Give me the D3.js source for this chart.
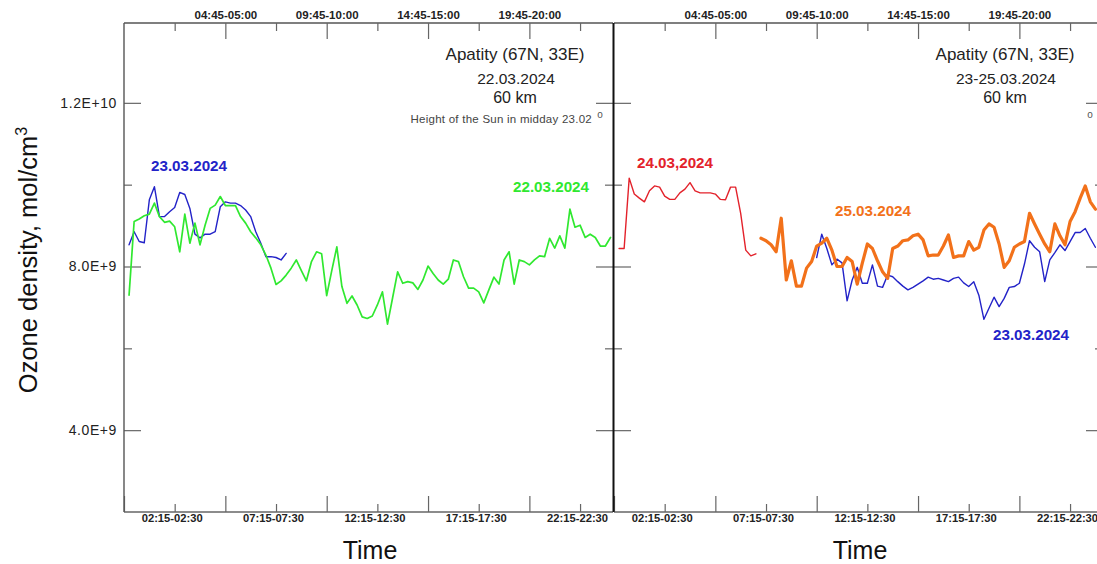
<!DOCTYPE html>
<html><head><meta charset="utf-8">
<script src="https://cdn.jsdelivr.net/npm/d3@7"></script>
<style>
body{margin:0;background:#fff;overflow:hidden}
svg{display:block;font-family:"Liberation Sans",Arial,sans-serif}
</style>
</head><body>
<svg id="chart" width="1097" height="564"></svg>
<script>
// ---- tick data (15-minute slot index: slot i starts at i*15 min) ----
const bottomTickSlots = [9, 29, 49, 69, 89];
const bottomTickLabels = ["02:15-02:30", "07:15-07:30", "12:15-12:30", "17:15-17:30", "22:15-22:30"];
const bottomMajorSlots = [-1, 19, 39, 59, 79];
const topTickSlots = [19, 39, 59, 79];
const topTickLabels = ["04:45-05:00", "09:45-10:00", "14:45-15:00", "19:45-20:00"];
const topMinorSlots = [9, 29, 49, 69, 89];
const yLabelValues = [4e9, 8e9, 1.2e10];
const yLabelTexts = ["4.0E+9", "8.0E+9", "1.2E+10"];
const yMinorValues = [6e9, 1e10];

// ---- series (values in units of 1e9 mol/cm3) ----
const green22Start = 0;
const green22 = [7.30, 9.10, 9.16, 9.24, 9.28, 9.55, 9.22, 9.08, 9.11, 8.97, 8.36, 9.28, 8.57, 9.06, 8.53, 9.01,
  9.42, 9.50, 9.71, 9.49, 9.49, 9.49, 9.22, 9.06, 8.85, 8.70, 8.53, 8.28, 7.96, 7.56, 7.65, 7.79, 7.96, 8.16,
  7.90, 7.65, 8.12, 8.36, 8.31, 7.29, 7.90, 8.48, 7.51, 7.10, 7.28, 7.06, 6.77, 6.73, 6.79, 7.06, 7.38, 6.59,
  7.23, 7.87, 7.59, 7.63, 7.60, 7.44, 7.67, 8.01, 7.83, 7.67, 7.57, 7.69, 8.16, 8.12, 7.75, 7.47, 7.47, 7.38,
  7.11, 7.43, 7.74, 7.57, 8.16, 8.36, 7.57, 8.16, 8.12, 8.04, 8.16, 8.26, 8.24, 8.69, 8.45, 8.75, 8.45, 9.40,
  8.96, 9.01, 8.71, 8.79, 8.71, 8.50, 8.50, 8.71];
const blue23LeftStart = 0;
const blue23Left = [8.53, 8.85, 8.61, 8.58, 9.63, 9.95, 9.22, 9.22, 9.34, 9.44, 9.81, 9.76, 9.42, 8.79, 8.70, 8.79,
  8.79, 8.85, 9.46, 9.58, 9.55, 9.55, 9.49, 9.38, 9.22, 8.85, 8.57, 8.24, 8.24, 8.22, 8.16, 8.32];
const red24Start = 0;
const red24 = [8.44, 8.44, 10.16, 9.77, 9.67, 9.58, 9.85, 9.97, 9.94, 9.72, 9.64, 9.64, 9.80, 9.89, 10.05, 9.85,
  9.80, 9.80, 9.80, 9.77, 9.64, 9.63, 9.94, 9.94, 9.30, 8.40, 8.26, 8.31];
const orange25Start = 28;
const orange25 = [8.69, 8.63, 8.53, 8.36, 9.18, 7.67, 8.14, 7.52, 7.52, 7.96, 8.12, 8.50, 8.57, 8.69, 8.40, 8.00,
  8.00, 8.22, 8.12, 7.57, 8.08, 8.55, 8.44, 8.14, 7.87, 7.71, 8.44, 8.50, 8.63, 8.65, 8.75, 8.79, 8.65, 8.26,
  8.28, 8.28, 8.50, 8.77, 8.22, 8.26, 8.26, 8.61, 8.40, 8.47, 8.89, 9.04, 8.96, 8.55, 7.98, 8.14, 8.47, 8.55,
  8.61, 9.30, 9.04, 8.79, 8.55, 8.36, 9.04, 8.75, 8.53, 9.10, 9.34, 9.67, 9.97, 9.58, 9.40];
const blue23RightStart = 39;
const blue23Right = [8.22, 8.79, 8.44, 8.04, 8.18, 8.09, 7.16, 7.67, 7.98, 7.59, 7.59, 8.04, 7.52, 7.49, 7.79, 7.75,
  7.63, 7.52, 7.43, 7.49, 7.57, 7.65, 7.74, 7.69, 7.71, 7.67, 7.63, 7.71, 7.74, 7.60, 7.51, 7.63, 7.30, 6.71,
  6.98, 7.25, 7.02, 7.22, 7.49, 7.51, 7.59, 8.06, 8.63, 8.47, 8.36, 7.63, 8.16, 8.34, 8.53, 8.39, 8.61, 8.83,
  8.83, 8.93, 8.69, 8.47];

// ---- layout ----
const svg = d3.select("#chart");
const W = 489, TOP = 23, BOT = 512;
const panels = [
  {x0: 124, date: "22.03.2024", sun: true},
  {x0: 614, date: "23-25.03.2024", sun: false}
];
const x = d3.scaleLinear().domain([-1, 95.5]).range([0, W]);
const y = d3.scaleLinear().domain([2e9, 1.4e10]).range([BOT, 21]);
const toPts = (start, arr) => arr.map((v, k) => ({slot: start + k, v: v * 1e9}));
const line = d3.line().x(d => x(d.slot)).y(d => y(d.v));

const COL = {green: "#30e830", blue: "#2323c8", red: "#e3222b", orange: "#f2711a"};
const TICK = "#666";

function styleAxis(g, keepText) {
  g.select(".domain").remove();
  g.selectAll(".tick line").attr("stroke", TICK).attr("stroke-width", 1.2);
  if (!keepText) g.selectAll("text").remove();
}

panels.forEach((p, pi) => {
  const g = svg.append("g").attr("transform", `translate(${p.x0},0)`);

  // frame
  g.append("line").attr("x1", 0).attr("x2", W).attr("y1", TOP).attr("y2", TOP).attr("stroke", "#555").attr("stroke-width", 1.3);
  g.append("line").attr("x1", 0).attr("x2", W).attr("y1", BOT).attr("y2", BOT).attr("stroke", "#666").attr("stroke-width", 1.3);

  // left axis ticks (inward)
  const yl = g.append("g").call(d3.axisRight(y).tickValues(yLabelValues).tickSize(17)); styleAxis(yl);
  const ylm = g.append("g").call(d3.axisRight(y).tickValues(yMinorValues).tickSize(8)); styleAxis(ylm);
  // right axis ticks (inward)
  const yr = g.append("g").attr("transform", `translate(${W},0)`).call(d3.axisLeft(y).tickValues(yLabelValues).tickSize(17)); styleAxis(yr);
  const yrm = g.append("g").attr("transform", `translate(${W},0)`).call(d3.axisLeft(y).tickValues(yMinorValues).tickSize(8)); styleAxis(yrm);

  // top axis
  const ta = g.append("g").attr("transform", `translate(0,${TOP})`)
    .call(d3.axisTop(x).tickValues(topTickSlots).tickSizeInner(-16).tickSizeOuter(0).tickPadding(4)
      .tickFormat((d, i) => topTickLabels[i]));
  styleAxis(ta, true);
  ta.selectAll("text").attr("font-size", 11.5).attr("font-weight", "bold").attr("fill", "#222").attr("font-family", "Liberation Sans, Arial, sans-serif");
  const tam = g.append("g").attr("transform", `translate(0,${TOP})`).call(d3.axisTop(x).tickValues(topMinorSlots).tickSizeInner(-8).tickSizeOuter(0)); styleAxis(tam);

  // bottom axis
  const ba = g.append("g").attr("transform", `translate(0,${BOT})`)
    .call(d3.axisBottom(x).tickValues(bottomTickSlots).tickSizeInner(-8).tickSizeOuter(0).tickPadding(2)
      .tickFormat((d, i) => bottomTickLabels[i]));
  styleAxis(ba, true);
  ba.selectAll("text").attr("font-size", 11.2).attr("font-weight", "bold").attr("fill", "#222").attr("dx", -3)
    .attr("font-family", "Liberation Sans, Arial, sans-serif");
  const bam = g.append("g").attr("transform", `translate(0,${BOT})`).call(d3.axisBottom(x).tickValues(bottomMajorSlots).tickSizeInner(-16).tickSizeOuter(0)); styleAxis(bam);

  // headings
  const hx = 391;
  g.append("text").attr("x", hx).attr("y", 60).attr("text-anchor", "middle").attr("font-size", 17).attr("fill", "#222").text("Apatity (67N, 33E)");
  g.append("text").attr("x", hx + 1).attr("y", 84).attr("text-anchor", "middle").attr("font-size", 15.5).attr("fill", "#222").text(p.date);
  g.append("text").attr("x", hx).attr("y", 103).attr("text-anchor", "middle").attr("font-size", 16).attr("fill", "#222").text("60 km");
  if (p.sun) {
    g.append("text").attr("x", 468).attr("y", 123).attr("text-anchor", "end").attr("font-size", 11.5)
      .attr("letter-spacing", 0.25).attr("fill", "#444").text("Height of the Sun in midday 23.02");
  }
  g.append("text").attr("x", 476).attr("y", 118).attr("text-anchor", "middle").attr("font-size", 10).attr("fill", "#555").text("o");

  // Time label
  g.append("text").attr("x", 246).attr("y", 559).attr("text-anchor", "middle").attr("font-size", 25).attr("fill", "#111").text("Time");

  // series
  const series = pi === 0
    ? [{d: toPts(blue23LeftStart, blue23Left), c: COL.blue, w: 1.4},
       {d: toPts(green22Start, green22), c: COL.green, w: 1.7}]
    : [{d: toPts(red24Start, red24), c: COL.red, w: 1.4},
       {d: toPts(blue23RightStart, blue23Right), c: COL.blue, w: 1.4},
       {d: toPts(orange25Start, orange25), c: COL.orange, w: 3.2}];
  series.forEach(s => {
    g.append("path").datum(s.d).attr("d", line).attr("fill", "none").attr("stroke", s.c)
      .attr("stroke-width", s.w).attr("stroke-linejoin", "round").attr("stroke-linecap", "round");
  });
});

// left axis line & boundary
svg.append("line").attr("x1", 124).attr("x2", 124).attr("y1", TOP).attr("y2", BOT).attr("stroke", "#555").attr("stroke-width", 1.4);
svg.append("line").attr("x1", 613.5).attr("x2", 613.5).attr("y1", TOP).attr("y2", BOT).attr("stroke", "#111").attr("stroke-width", 2);

// y labels
svg.append("g").selectAll("text").data(yLabelValues).join("text")
  .attr("x", 117).attr("y", d => y(d)).attr("dy", "0.35em").attr("text-anchor", "end")
  .attr("font-size", 14).attr("letter-spacing", 0.6).attr("fill", "#222").text((d, i) => yLabelTexts[i]);

// y title
const yt = svg.append("text").attr("transform", "translate(37,260) rotate(-90)").attr("text-anchor", "middle")
  .attr("font-size", 25.5).attr("fill", "#111");
yt.append("tspan").text("Ozone density, mol/cm");
yt.append("tspan").attr("font-size", 16).attr("dy", -10).text("3");

// series labels
const labels = [
  {t: "23.03.2024", c: COL.blue, x: 151, y: 171},
  {t: "22.03.2024", c: COL.green, x: 513, y: 192},
  {t: "24.03,2024", c: COL.red, x: 637, y: 168},
  {t: "25.03.2024", c: COL.orange, x: 835, y: 215.5},
  {t: "23.03.2024", c: COL.blue, x: 993, y: 340}
];
svg.append("g").selectAll("text").data(labels).join("text")
  .attr("x", d => d.x).attr("y", d => d.y).attr("font-size", 15.2).attr("font-weight", "bold")
  .attr("fill", d => d.c).text(d => d.t);
</script>
</body></html>
